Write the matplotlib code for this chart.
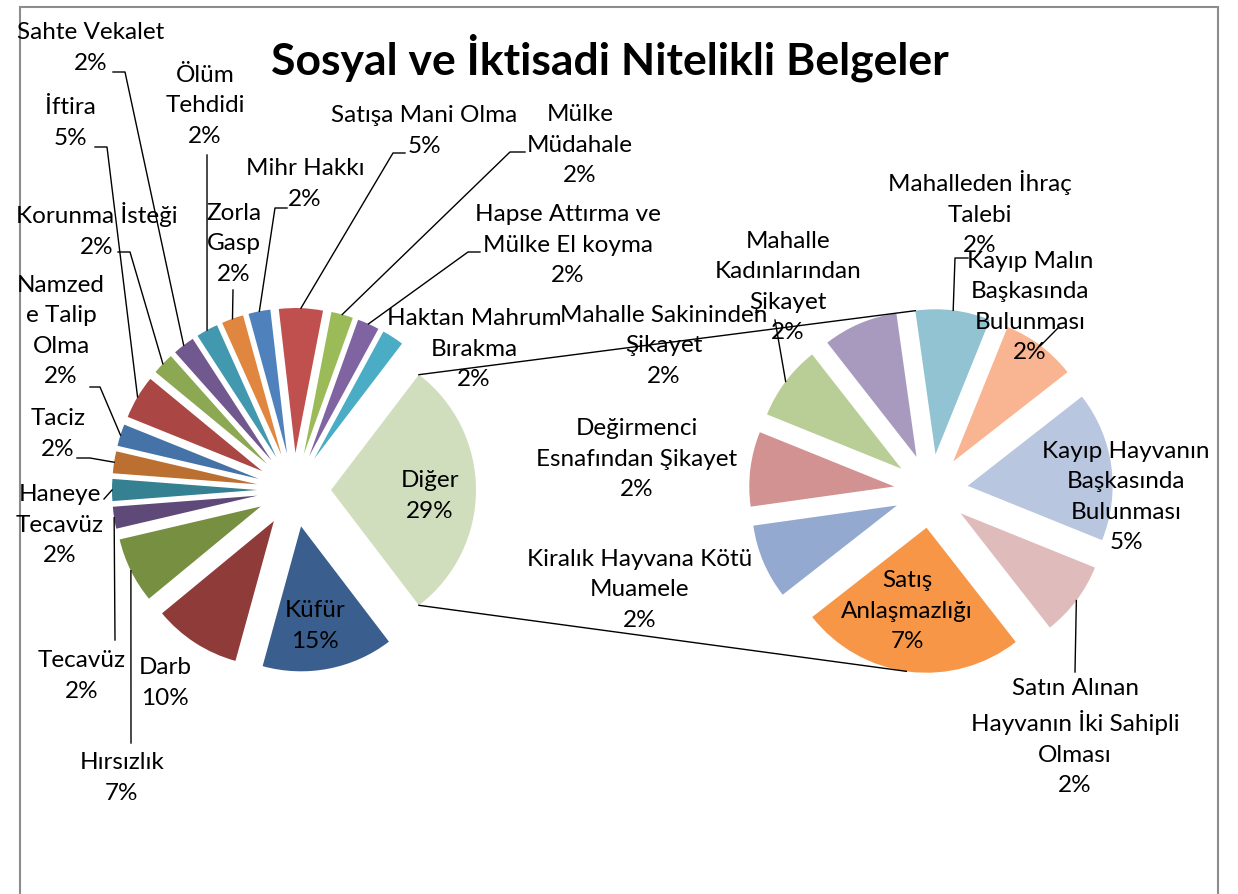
import matplotlib
matplotlib.use('Agg')
import matplotlib.pyplot as plt
from matplotlib.patches import Rectangle
import numpy as np

plt.rcParams['font.family'] = ['Lato', 'DejaVu Sans']

W, H = 1238, 894

# first pie, counter-clockwise starting with "Diğer"
main_labels = ['Diğer', 'Haktan Mahrum\nBırakma', 'Hapse Attırma ve\nMülke El koyma',
               'Mülke\nMüdahale', 'Satışa Mani Olma', 'Mihr Hakkı', 'Zorla\nGasp',
               'Ölüm\nTehdidi', 'Sahte Vekalet', 'Korunma İsteği', 'İftira',
               'Namzed\ne Talip\nOlma', 'Taciz', 'Haneye\nTecavüz', 'Tecavüz',
               'Hırsızlık', 'Darb', 'Küfür']
main_counts = [12, 1, 1, 1, 2, 1, 1, 1, 1, 1, 2, 1, 1, 1, 1, 3, 4, 6]
main_colors = ['#D1DEBE', '#4BACC6', '#8064A2', '#9BBB59', '#C0504D', '#4F81BD',
               '#E0863E', '#4198AF', '#71588F', '#8CA853', '#AA4643', '#4572A7',
               '#BB6F31', '#358192', '#5E4979', '#768F40', '#8F3B39', '#3A5F8E']

# second pie ("Diğer" split), counter-clockwise
other_labels = ['Kayıp Hayvanın\nBaşkasında\nBulunması', 'Kayıp Malın\nBaşkasında\nBulunması',
                'Mahalleden İhraç\nTalebi', 'Mahalle\nKadınlarından\nŞikayet',
                'Mahalle Sakininden\nŞikayet', 'Değirmenci\nEsnafından Şikayet',
                'Kiralık Hayvana Kötü\nMuamele', 'Satış\nAnlaşmazlığı',
                'Satın Alınan\nHayvanın İki Sahipli\nOlması']
other_counts = [2, 1, 1, 1, 1, 1, 1, 3, 1]
other_colors = ['#B9C6E0', '#F9B591', '#92C3D3', '#A89ABE', '#B8CE96', '#D39292',
                '#93A9CF', '#F79646', '#E0BBBB']

total = sum(main_counts)

# label block centres (pixels from top-left) and leader elbows
main_text_xy = [(430, 496), (474, 349), (568, 245), (580, 145), (424, 131), (305, 184),
                (234, 244), (205, 106), (91, 48), (97, 230), (70, 123), (61, 331),
                (58, 434), (60, 525), (82, 676), (122, 778), (165, 683), (315, 626)]
main_leaders = [None, None, [(480, 252), (468, 252)], [(525, 152), (510, 152)],
                [(405, 153), (393, 153)], [(287, 208), (275, 208)], [(233, 290)],
                [(207, 155)], [(113, 72), (125, 72)], [(118, 252), (130, 252)],
                [(95, 147), (107, 147)], [(90, 387), (100, 387)],
                [(77, 458), (90, 458)], [(104, 499)], [(115, 640)], [(131, 743)],
                None, None]
other_text_xy = [(1126, 497), (1030, 307), (980, 213), (788, 287), (664, 346),
                 (637, 459), (640, 590), (907, 611), (1075, 737)]
other_leaders = [None, [(1058, 328)], [(968, 258), (955, 258)], None, [(775, 320)],
                 None, None, None, [(1075, 672)]]

fig = plt.figure(figsize=(W / 100, H / 100), dpi=100)
ax = fig.add_axes([0, 0, 1, 1])

r = 145
gap = 37
w1, _ = ax.pie(main_counts, colors=main_colors, radius=r, center=(294, H - 490),
               explode=[gap] * len(main_counts),
               startangle=-180 * main_counts[0] / total,
               wedgeprops=dict(linewidth=0))
w2, _ = ax.pie(other_counts, colors=other_colors, radius=r, center=(931, H - 491),
               explode=[gap] * len(other_counts), startangle=-22,
               wedgeprops=dict(linewidth=0))


def tip(w, ang=None):
    if ang is None:
        ang = (w.theta1 + w.theta2) / 2
    a = np.deg2rad(ang)
    return w.center[0] + w.r * np.cos(a), w.center[1] + w.r * np.sin(a)


def on_pie(wedges, ang):
    for w in wedges:
        if w.theta1 <= ang <= w.theta2 or w.theta1 <= ang + 360 <= w.theta2:
            return tip(w, ang if w.theta1 <= ang <= w.theta2 else ang + 360)


fs = 17.5
ls = 1.55


def put_labels(wedges, labels, counts, xys, leaders):
    for w, lab, c, xy, ld in zip(wedges, labels, counts, xys, leaders):
        pct = int(round(100 * c / total))
        ax.text(xy[0], H - xy[1], f'{lab}\n{pct}%', ha='center', va='center',
                multialignment='center', fontsize=fs, linespacing=ls, color='black')
        if ld:
            pts = [(x, H - y) for x, y in ld] + [tip(w)]
            ax.plot([p[0] for p in pts], [p[1] for p in pts], color='black', lw=1.0)


put_labels(w1, main_labels, main_counts, main_text_xy, main_leaders)
put_labels(w2, other_labels, other_counts, other_text_xy, other_leaders)

# connector lines from "Diğer" to the second pie
d = w1[0]
for a_from, a_to in [(d.theta2, 98), (d.theta1, 262)]:
    p0 = tip(d, a_from)
    p1 = on_pie(w2, a_to)
    ax.plot([p0[0], p1[0]], [p0[1], p1[1]], color='black', lw=1.0)

ax.add_patch(Rectangle((20, -10), 1198, H - 7 + 10, fill=False,
                       edgecolor='#8C8C8C', lw=1.5))

fig.text(610 / W, 1 - 58 / H, 'Sosyal ve İktisadi Nitelikli Belgeler',
         ha='center', va='center', fontsize=32, fontweight='bold')

ax.set_xlim(0, W)
ax.set_ylim(0, H)
ax.set_aspect('equal')
ax.axis('off')

fig.savefig('out.png', dpi=100)
